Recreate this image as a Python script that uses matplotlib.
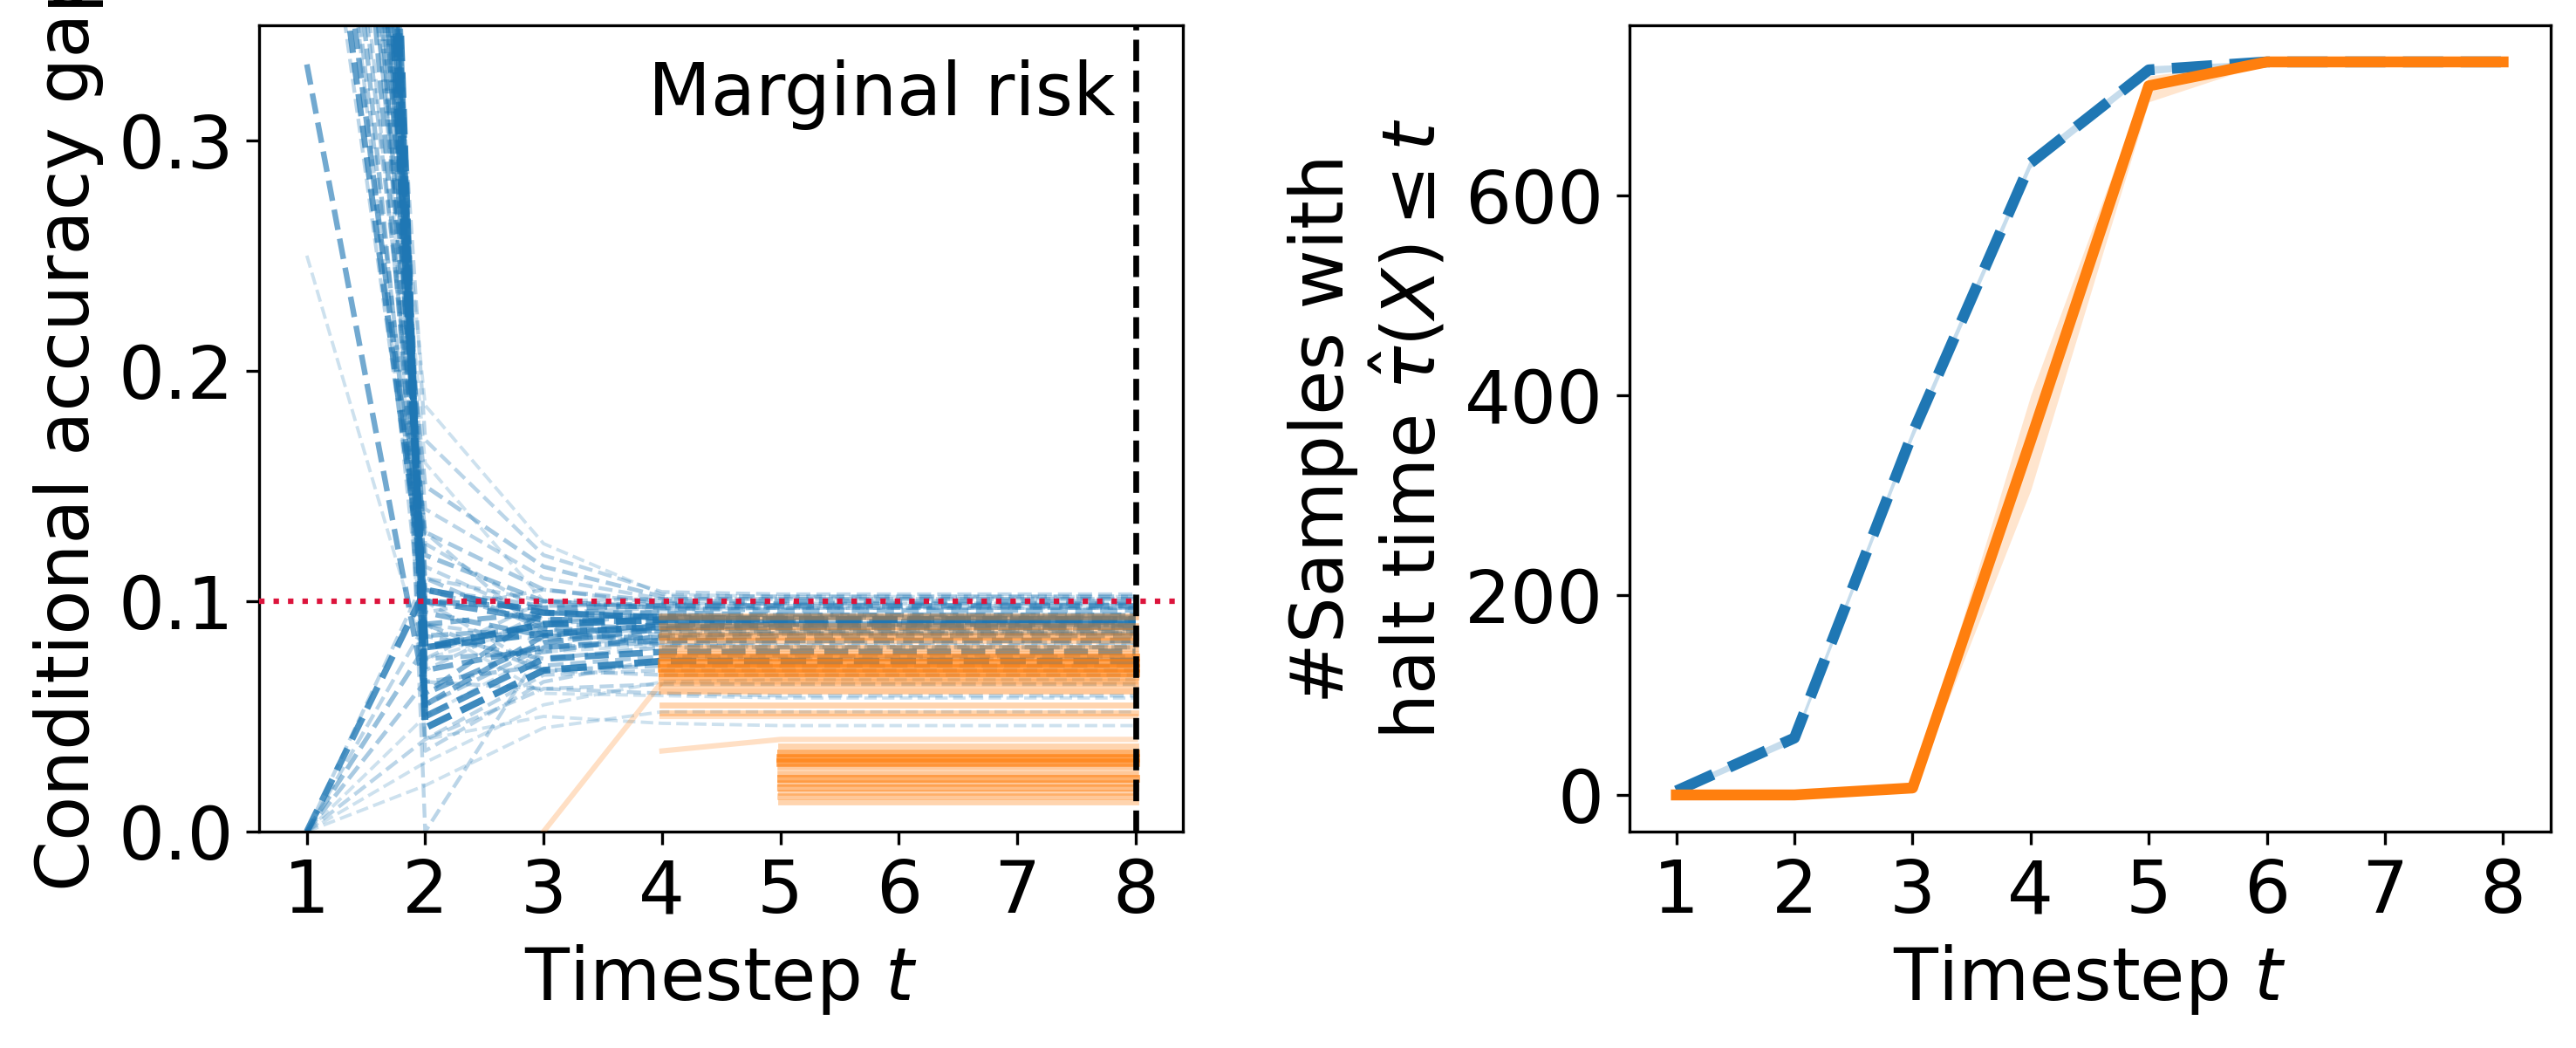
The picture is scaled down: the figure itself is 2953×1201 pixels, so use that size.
import numpy as np
import matplotlib
matplotlib.use("Agg")
import matplotlib.pyplot as plt

# ---------------- data ----------------
timesteps = [1, 2, 3, 4, 5, 6, 7, 8]

# left panel: per-group conditional accuracy gap (blue = dashed baseline groups)
blue_groups = [
    [0.333, 0.060, 0.082, 0.088, 0.090, 0.090, 0.090, 0.090],
    [0.250, 0.075, 0.090, 0.096, 0.097, 0.097, 0.097, 0.097],
    [0.490, 0.100, 0.092, 0.091, 0.091, 0.091, 0.091, 0.091],
    [0.600, 0.085, 0.088, 0.087, 0.087, 0.087, 0.087, 0.087],
    [0.710, 0.090, 0.095, 0.095, 0.094, 0.094, 0.094, 0.094],
    [0.900, 0.095, 0.085, 0.084, 0.085, 0.085, 0.085, 0.085],
    [1.080, 0.080, 0.090, 0.092, 0.092, 0.092, 0.092, 0.092],
    [1.250, 0.070, 0.080, 0.083, 0.083, 0.083, 0.083, 0.083],
    [0.520, 0.100, 0.097, 0.098, 0.098, 0.098, 0.098, 0.098],
    [1.150, 0.080, 0.086, 0.089, 0.089, 0.089, 0.089, 0.089],
    [1.400, 0.050, 0.075, 0.078, 0.078, 0.078, 0.078, 0.078],
    [1.500, 0.045, 0.070, 0.074, 0.074, 0.074, 0.074, 0.074],
    [0.750, 0.120, 0.100, 0.097, 0.096, 0.096, 0.096, 0.096],
    [0.950, 0.170, 0.120, 0.104, 0.103, 0.103, 0.103, 0.103],
    [0.650, 0.150, 0.115, 0.102, 0.102, 0.102, 0.102, 0.102],
    [0.800, 0.140, 0.110, 0.101, 0.101, 0.101, 0.101, 0.101],
    [1.200, 0.060, 0.095, 0.093, 0.093, 0.093, 0.093, 0.093],
    [1.350, 0.075, 0.078, 0.085, 0.086, 0.086, 0.086, 0.086],
    [1.000, 0.090, 0.070, 0.072, 0.072, 0.072, 0.072, 0.072],
    [0.850, 0.110, 0.088, 0.081, 0.080, 0.080, 0.080, 0.080],
    [1.100, 0.065, 0.062, 0.060, 0.059, 0.059, 0.059, 0.059],
    [0.550, 0.105, 0.098, 0.099, 0.099, 0.099, 0.099, 0.099],
    [1.450, 0.055, 0.085, 0.090, 0.090, 0.090, 0.090, 0.090],
    [0.580, 0.130, 0.105, 0.100, 0.100, 0.100, 0.100, 0.100],
    [0.700, 0.185, 0.125, 0.103, 0.102, 0.102, 0.102, 0.102],
    [1.300, 0.000, 0.080, 0.085, 0.086, 0.086, 0.086, 0.086],
    [0.900, 0.040, 0.050, 0.047, 0.046, 0.046, 0.046, 0.046],
    [1.000, 0.090, 0.060, 0.059, 0.058, 0.058, 0.058, 0.058],
    [0.620, 0.115, 0.092, 0.094, 0.094, 0.094, 0.094, 0.094],
    [0.780, 0.095, 0.105, 0.099, 0.099, 0.099, 0.099, 0.099],
    [0.880, 0.070, 0.095, 0.097, 0.097, 0.097, 0.097, 0.097],
    [0.680, 0.130, 0.085, 0.088, 0.088, 0.088, 0.088, 0.088],
    [1.050, 0.055, 0.080, 0.082, 0.082, 0.082, 0.082, 0.082],
    [1.220, 0.085, 0.075, 0.080, 0.080, 0.080, 0.080, 0.080],
    [0.470, 0.100, 0.070, 0.068, 0.068, 0.068, 0.068, 0.068],
    [0.950, 0.035, 0.065, 0.075, 0.075, 0.075, 0.075, 0.075],
    [1.180, 0.105, 0.090, 0.094, 0.094, 0.094, 0.094, 0.094],
    [0.730, 0.160, 0.100, 0.097, 0.097, 0.097, 0.097, 0.097],
    [0.840, 0.125, 0.095, 0.092, 0.092, 0.092, 0.092, 0.092],
    [1.320, 0.040, 0.062, 0.064, 0.064, 0.064, 0.064, 0.064],
    [0.560, 0.075, 0.100, 0.101, 0.101, 0.101, 0.101, 0.101],
    [0.000, 0.105, 0.095, 0.093, 0.092, 0.092, 0.092, 0.092],
    [0.000, 0.080, 0.090, 0.088, 0.088, 0.088, 0.088, 0.088],
    [0.000, 0.065, 0.072, 0.076, 0.076, 0.076, 0.076, 0.076],
    [0.000, 0.040, 0.068, 0.070, 0.070, 0.070, 0.070, 0.070],
    [0.000, 0.030, 0.055, 0.065, 0.066, 0.066, 0.066, 0.066],
    [0.000, 0.110, 0.100, 0.098, 0.098, 0.098, 0.098, 0.098],
    [0.000, 0.020, 0.045, 0.052, 0.052, 0.052, 0.052, 0.052],
    [0.000, 0.090, 0.083, 0.086, 0.086, 0.086, 0.086, 0.086],
    [0.000, 0.050, 0.078, 0.081, 0.081, 0.081, 0.081, 0.081],
]
blue_counts = [6, 1, 7, 4, 5, 5, 9, 6, 6, 8, 8, 9, 4, 2, 3, 2, 5, 4, 3, 3,
               2, 3, 6, 3, 1, 2, 1, 1, 2, 2, 2, 2, 3, 3, 2, 2, 3, 1, 2, 2,
               2, 8, 4, 3, 2, 1, 2, 1, 2, 1]

nan = float("nan")
# orange = solid groups, defined only from their first halting step onward
orange_groups = [
    [nan, nan, nan, 0.093, 0.093, 0.093, 0.093, 0.093],
    [nan, nan, nan, 0.089, 0.089, 0.089, 0.089, 0.089],
    [nan, nan, nan, 0.087, 0.087, 0.087, 0.087, 0.087],
    [nan, nan, nan, 0.0845, 0.0845, 0.0845, 0.0845, 0.0845],
    [nan, nan, nan, 0.083, 0.083, 0.083, 0.083, 0.083],
    [nan, nan, nan, 0.0795, 0.0795, 0.0795, 0.0795, 0.0795],
    [nan, nan, nan, 0.077, 0.077, 0.077, 0.077, 0.077],
    [nan, nan, nan, 0.0757, 0.0757, 0.0757, 0.0757, 0.0757],
    [nan, nan, nan, 0.073, 0.073, 0.073, 0.073, 0.073],
    [nan, nan, nan, 0.071, 0.071, 0.071, 0.071, 0.071],
    [nan, nan, nan, 0.069, 0.069, 0.069, 0.069, 0.069],
    [nan, nan, nan, 0.067, 0.067, 0.067, 0.067, 0.067],
    [nan, nan, nan, 0.064, 0.064, 0.064, 0.064, 0.064],
    [nan, nan, nan, 0.061, 0.061, 0.061, 0.061, 0.061],
    [nan, nan, nan, 0.055, 0.055, 0.055, 0.055, 0.055],
    [nan, nan, nan, 0.0515, 0.0515, 0.0515, 0.0515, 0.0515],
    [nan, nan, nan, 0.050, 0.050, 0.050, 0.050, 0.050],
    [nan, nan, 0.000, 0.065, 0.065, 0.065, 0.065, 0.065],
    [nan, nan, nan, 0.035, 0.040, 0.040, 0.040, 0.040],
    [nan, nan, nan, nan, 0.037, 0.037, 0.037, 0.037],
    [nan, nan, nan, nan, 0.034, 0.034, 0.034, 0.034],
    [nan, nan, nan, nan, 0.032, 0.032, 0.032, 0.032],
    [nan, nan, nan, nan, 0.030, 0.030, 0.030, 0.030],
    [nan, nan, nan, nan, 0.028, 0.028, 0.028, 0.028],
    [nan, nan, nan, nan, 0.025, 0.025, 0.025, 0.025],
    [nan, nan, nan, nan, 0.023, 0.023, 0.023, 0.023],
    [nan, nan, nan, nan, 0.021, 0.021, 0.021, 0.021],
    [nan, nan, nan, nan, 0.019, 0.019, 0.019, 0.019],
    [nan, nan, nan, nan, 0.017, 0.017, 0.017, 0.017],
    [nan, nan, nan, nan, 0.015, 0.015, 0.015, 0.015],
    [nan, nan, nan, nan, 0.013, 0.013, 0.013, 0.013],
]
orange_counts = [3, 3, 2, 4, 2, 3, 3, 5, 6, 6, 5, 4, 3, 3, 2, 2, 1, 1, 1,
                 2, 5, 6, 6, 3, 3, 5, 3, 4, 2, 3, 2]

target_risk = 0.1
marginal_t = 8

# right panel: cumulative number of halted samples
blue_halted = [4, 57, 362, 633, 726, 734, 734, 734]
blue_halted_lo = [1, 53, 357, 628, 722, 733, 733, 733]
blue_halted_hi = [7, 61, 367, 638, 730, 735, 735, 735]
orange_halted = [0, 0, 7, 355, 710, 734, 734, 734]
orange_halted_lo = [0, 0, 4, 305, 694, 733, 733, 733]
orange_halted_hi = [0, 0, 10, 400, 720, 735, 735, 735]

# ---------------- figure ----------------
W, H, DPI = 2954, 1201, 300
fig = plt.figure(figsize=(W / DPI, H / DPI), dpi=DPI)
plt.rcParams["font.family"] = ["DejaVu Sans"]
FS = 20

blue_c = "#1f77b4"
orange_c = "#ff7f0e"

ax1 = fig.add_axes([0.1007, 0.2065, 0.3583, 0.7694])
ax2 = fig.add_axes([0.6322, 0.2065, 0.3575, 0.7694])

bmax = max(blue_counts)
for vals, c in zip(blue_groups, blue_counts):
    f = c / bmax
    ax1.plot(timesteps, vals, color=blue_c, ls="--", lw=0.8 + 1.1 * f,
             alpha=0.14 + 0.73 * f, zorder=2)

omax = max(orange_counts)
for vals, c in zip(orange_groups, orange_counts):
    f = c / omax
    ax1.plot(timesteps, vals, color=orange_c, ls="-", lw=1.3 + 1.0 * f,
             alpha=0.15 + 0.55 * f, zorder=3)

ax1.axhline(target_risk, color="crimson", ls=":", lw=1.5, zorder=5)
ax1.axvline(marginal_t, color="black", ls="--", lw=1.6, zorder=5)
ax1.text(7.83, 0.311, "Marginal risk", ha="right", va="baseline", fontsize=FS)

ax1.set_xlim(0.6, 8.4)
ax1.set_ylim(0, 0.35)
ax1.set_xticks(timesteps)
ax1.set_yticks([0.0, 0.1, 0.2, 0.3])
ax1.set_xlabel("Timestep $t$", fontsize=FS)
ax1.set_ylabel("Conditional accuracy gap", fontsize=FS)
ax1.tick_params(labelsize=FS)

ax2.fill_between(timesteps, blue_halted_lo, blue_halted_hi, color=blue_c,
                 alpha=0.25, lw=0)
ax2.plot(timesteps, blue_halted, color=blue_c, ls="--", lw=3)
ax2.fill_between(timesteps, orange_halted_lo, orange_halted_hi, color=orange_c,
                 alpha=0.2, lw=0)
ax2.plot(timesteps, orange_halted, color=orange_c, ls="-", lw=3)

ax2.set_xlim(0.6, 8.4)
ax2.set_ylim(-36.7, 770.7)
ax2.set_xticks(timesteps)
ax2.set_yticks([0, 200, 400, 600])
ax2.set_xlabel("Timestep $t$", fontsize=FS)
ax2.set_ylabel("#Samples with\nhalt time $\\hat{\\tau}(X) \\leq t$", fontsize=FS)
ax2.tick_params(labelsize=FS)

fig.savefig("out.png", dpi=DPI)
